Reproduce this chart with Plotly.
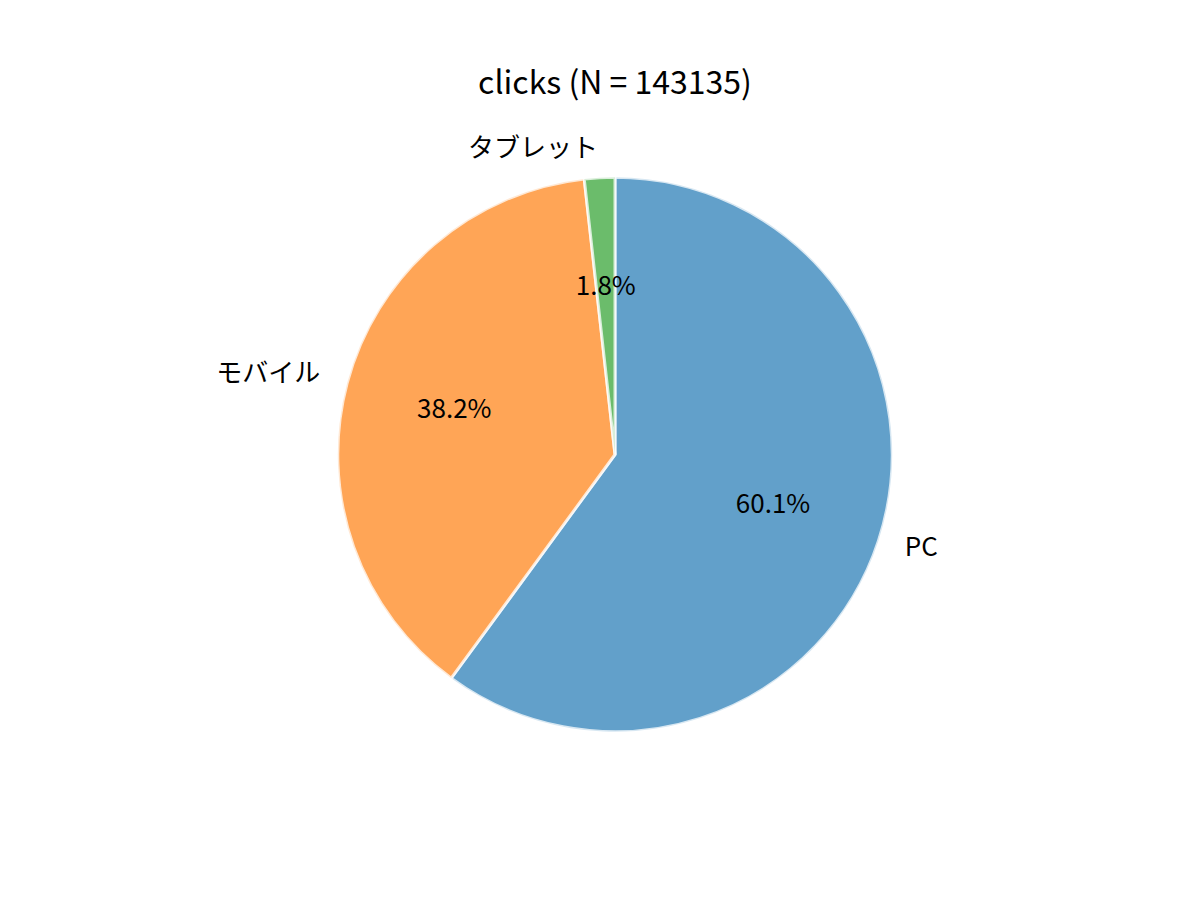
import numpy as np
import plotly.graph_objects as go

# clicks by device
labels = ['PC', 'モバイル', 'タブレット']
clicks = [85967, 54635, 2533]
colours = ['#1f77b4', '#ff7f0e', '#2ca02c']
title_text = 'clicks (N = %d)' % sum(clicks)

font_name = 'Noto Sans CJK JP'


def blend(hex_col, alpha=0.7):
    # matplotlib alpha on white background
    r, g, b = (int(hex_col[i:i + 2], 16) for i in (1, 3, 5))
    return 'rgb(%d,%d,%d)' % tuple(round(alpha * c + (1 - alpha) * 255) for c in (r, g, b))


fills = [blend(c) for c in colours]

vals = np.array(clicks, dtype=float)
share = vals / vals.sum()
mid_theta = (np.cumsum(share) - share / 2) * 360
pct_text = ['%.1f%%' % (s * 100) for s in share]
side = ['middle right' if np.sin(np.radians(t)) >= 0 else 'middle left' for t in mid_theta]

fig = go.Figure()

# pie wedges as polar bars (start at 12 o'clock, clockwise)
fig.add_trace(go.Barpolar(
    r=[1] * len(labels),
    theta=mid_theta,
    width=share * 360,
    base=0,
    marker=dict(color=fills, line=dict(color='rgba(255,255,255,0.75)', width=3)),
    text=labels,
    hoverinfo='text',
    showlegend=False,
))

# percentages at 0.6 r, labels at 1.1 r (as matplotlib does)
fig.add_trace(go.Scatterpolar(
    r=[0.6] * len(labels),
    theta=mid_theta,
    mode='text',
    text=pct_text,
    textposition='middle center',
    textfont=dict(family=font_name, size=26, color='black'),
    cliponaxis=False,
    showlegend=False,
    hoverinfo='skip',
))
fig.add_trace(go.Scatterpolar(
    r=[1.1] * len(labels),
    theta=mid_theta,
    mode='text',
    text=labels,
    textposition=side,
    textfont=dict(family=font_name, size=26, color='black'),
    cliponaxis=False,
    showlegend=False,
    hoverinfo='skip',
))

fig.update_layout(
    width=1200,
    height=900,
    margin=dict(l=0, r=0, t=0, b=0),
    paper_bgcolor='white',
    plot_bgcolor='white',
    font=dict(family=font_name, color='black'),
    title=dict(text=title_text, x=607 / 1200, xanchor='center', y=1 - 75 / 900, yanchor='middle',
               font=dict(family=font_name, size=32, color='black')),
    polar=dict(
        domain=dict(x=[260.5 / 1200, 953.5 / 1200], y=[107 / 900, 800 / 900]),
        bgcolor='rgba(0,0,0,0)',
        bargap=0,
        radialaxis=dict(range=[0, 1.25], visible=False, showgrid=False),
        angularaxis=dict(rotation=90, direction='clockwise', visible=False, showgrid=False),
    ),
)

fig.write_html('out.html')
